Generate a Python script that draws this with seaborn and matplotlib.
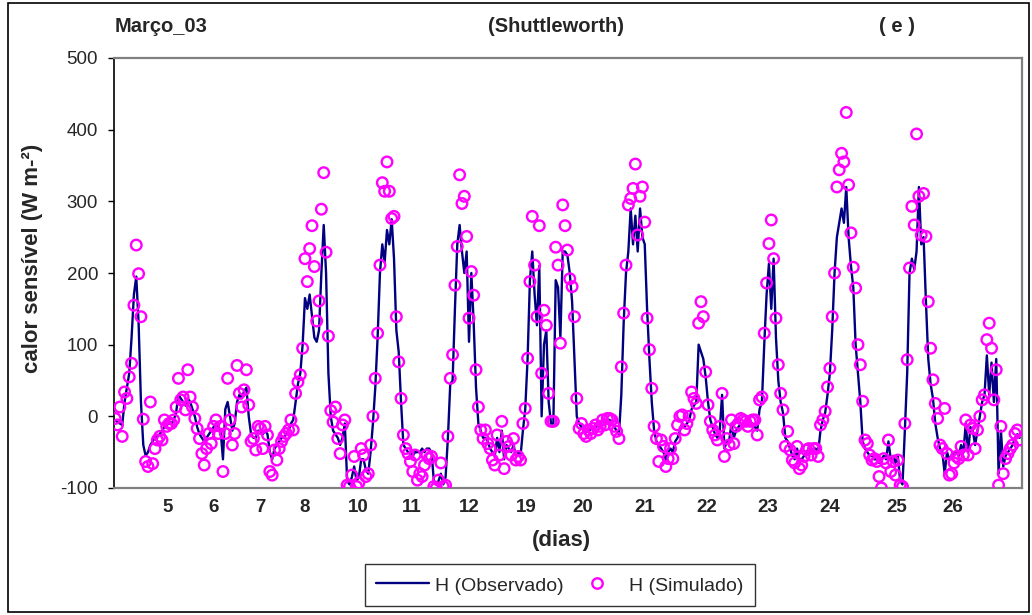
import numpy as np
import pandas as pd
import matplotlib
matplotlib.use("Agg")
import matplotlib.pyplot as plt
import seaborn as sns
from matplotlib.lines import Line2D
from matplotlib.patches import Rectangle

# H observado (W m-2), sequencia horaria
h_observado = [
    -5, -8, -10, -12, 20, 40, 60, 110, 170, 195, 130, 20, -40, -55, -50, -40, -35, -30, -28, -25, -20, -15, -12, -10,
    -10, -5, 5, 30, 25, 20, 15, 25, 20, 10, 0, -15, -25, -30, -35, -30, -25, -20, -15, -10, -15, -20, -60, 10,
    20, 0, -20, -10, 20, 30, 25, 35, 40, 0, -25, -30, -30, -20, -20, -25, -20, -25, -50, -60, -45, -40, -35, -30,
    -30, -25, -20, -10, -5, 20, 45, 60, 100, 165, 150, 170, 140, 110, 104, 120, 200, 267, 200, 60, 0, -20, -25, -30,
    -40, -30, -10, -90, -95, -85, -70, -90, -85, -60, -60, -75, -80, -50, -10, 40, 110, 200, 240, 215, 260, 240, 275, 220,
    120, 90, 20, -40, -45, -50, -50, -55, -50, -50, -50, -45, -50, -45, -45, -50, -90, -95, -90, -80, -95, -85, -30, 45,
    50, 150, 240, 267, 230, 200, 230, 104, 200, 130, 40, -10, -20, -30, -30, -35, -45, -50, -55, -30, -50, -20, -60, -40,
    -45, -50, -40, -55, -50, -55, -20, 10, 80, 190, 230, 170, 127, 210, 0, 100, 120, 20, -10, -10, 190, 180, 110, 230,
    230, 225, 200, 160, 80, 0, -10, -15, -20, -22, -20, -18, -15, -15, -12, -10, -8, -8, -5, -5, -10, -15, -20, -25,
    30, 130, 200, 230, 290, 240, 280, 230, 290, 250, 240, 150, 80, 20, -20, -35, -40, -45, -50, -60, -50, -45, -50, -35,
    -30, -20, -10, -15, -10, -5, 10, 15, 20, 100, 90, 80, 55, 20, -5, -15, -25, -30, -20, 30, -45, -35, -35, -10,
    -30, -20, -15, -10, -10, -10, -12, -10, -10, -15, -20, 10, 20, 100, 170, 213, 150, 220, 110, 50, 20, 5, -30, -35,
    -45, -55, -60, -45, -60, -60, -55, -50, -45, -50, -45, -45, -50, -20, -5, 5, 30, 60, 120, 200, 250, 270, 290, 270,
    320, 250, 210, 180, 100, 60, 20, -35, -45, -50, -55, -55, -60, -60, -65, -60, -55, -60, -35, -60, -55, -65, -55, -90,
    -95, -20, 60, 200, 220, 205, 230, 320, 240, 250, 160, 80, 45, 25, -10, -30, -45, -50, -80, -50, -60, -55, -50, -50,
    -55, -40, -50, -10, -50, -15, -20, -40, -20, 0, 20, 30, 85, 30, 75, 20, 80, -80, -20, -70, -55, -50, -45, -40, -30, -25, -30,
]

# H simulado (Shuttleworth)
h_simulado = [
    -3, -12, 13, -28, 34, 25, 55, 74, 155, 239, 199, 139, -4, -63, -70, 20, -66, -45, -33, -28, -33, -5, -14, -10,
    -10, -5, 13, 53, 23, 27, 9, 65, 27, 13, -3, -17, -31, -52, -68, -45, -24, -38, -14, -5, -24, -14, -77, -24,
    53, -5, -40, -24, 71, 32, 13, 37, 65, 16, -35, -31, -47, -14, -17, -45, -14, -26, -77, -82, -47, -61, -45, -35,
    -28, -24, -19, -5, -19, 32, 48, 58, 95, 220, 188, 234, 266, 209, 133, 161, 289, 340, 229, 112, 8, -8, 13, -31,
    -52, -12, -5, -96, -98, -82, -56, -98, -93, -45, -54, -84, -80, -40, 0, 53, 116, 211, 326, 314, 355, 314, 276, 279,
    139, 76, 25, -26, -45, -52, -63, -77, -54, -89, -80, -84, -68, -54, -59, -56, -98, -100, -89, -65, -98, -96, -28, 53,
    86, 183, 237, 337, 297, 307, 251, 137, 202, 169, 65, 13, -19, -31, -19, -38, -45, -61, -68, -26, -54, -7, -73, -35,
    -42, -54, -31, -61, -56, -61, -10, 11, 81, 188, 279, 211, 139, 266, 60, 148, 127, 32, -7, -7, 236, 211, 102, 295,
    266, 232, 192, 181, 139, 25, -17, -10, -24, -28, -19, -24, -17, -12, -19, -14, -5, -12, -3, -3, -5, -14, -21, -31,
    69, 144, 211, 295, 304, 318, 352, 253, 307, 320, 271, 137, 93, 39, -14, -31, -63, -33, -42, -70, -59, -45, -59, -31,
    -12, 0, 2, -19, -10, 0, 34, 25, 18, 130, 160, 139, 62, 16, -7, -19, -26, -33, -14, 32, -56, -31, -40, -5,
    -38, -14, -10, -3, -5, -7, -14, -7, -5, -5, -26, 23, 27, 116, 186, 241, 274, 220, 137, 72, 32, 9, -42, -21,
    -47, -61, -65, -42, -73, -68, -56, -47, -45, -54, -45, -45, -56, -12, -5, 7, 41, 67, 139, 200, 320, 344, 367, 355,
    424, 323, 256, 208, 179, 100, 72, 21, -33, -38, -54, -61, -59, -63, -84, -100, -59, -65, -33, -77, -63, -82, -61, -96,
    -98, -10, 79, 207, 293, 267, 394, 307, 253, 311, 251, 160, 95, 51, 18, -3, -40, -45, 11, -52, -82, -80, -65, -56,
    -59, -42, -54, -5, -54, -12, -17, -45, -19, 0, 23, 30, 107, 130, 95, 23, 65, -96, -14, -80, -59, -52, -45, -40, -24, -19, -33,
]

dias = ["5", "6", "7", "8", "10", "11", "12", "19", "20", "21", "22", "23", "24", "25", "26"]
dias_hora = [22.5, 42.2, 61.8, 81.0, 103.6, 126.6, 151.3, 175.6, 199.5, 226.0, 252.4, 278.5, 305.0, 333.6, 357.5]
y_ticks = [-100, 0, 100, 200, 300, 400, 500]

df = pd.DataFrame({
    "hora": np.arange(len(h_observado)),
    "obs": h_observado,
    "sim": h_simulado,
})

sns.set_style("white")
plt.rcParams["font.family"] = ["Liberation Sans", "DejaVu Sans"]
plt.rcParams["axes.unicode_minus"] = False

W, H = 1032, 615
fig = plt.figure(figsize=(W / 100, H / 100), dpi=100)
ax = fig.add_axes([114 / W, 1 - 488 / H, (1022 - 114) / W, (488 - 58) / H])

navy = "#000080"
magenta = "#ff00ff"

sns.lineplot(data=df, x="hora", y="obs", color=navy, linewidth=1.7, ax=ax, zorder=2)
sns.scatterplot(data=df, x="hora", y="sim", marker="o", s=58, facecolor="none",
                edgecolor=magenta, linewidth=1.7, ax=ax, zorder=3)

ax.set_xlim(-0.5, 387)
ax.set_ylim(-100, 500)
ax.set_yticks(y_ticks)
ax.set_xticks(dias_hora)
ax.set_xticklabels(dias, fontweight="bold", fontsize=13.5)
ax.tick_params(axis="x", length=0, pad=8)
ax.tick_params(axis="y", left=True, length=4.5, width=1, color="black", direction="out",
               pad=7, labelsize=13.5)

for side in ["top", "right", "bottom"]:
    ax.spines[side].set_color("#808080")
    ax.spines[side].set_linewidth(1.6)
ax.spines["left"].set_color("black")
ax.spines["left"].set_linewidth(1.2)

ax.set_xlabel("(dias)", fontweight="bold", fontsize=16)
ax.xaxis.label.set_va("center")
ax.xaxis.set_label_coords(0.493, -0.123)
ax.set_ylabel("calor sensível (W m-²)", fontweight="bold", fontsize=16)
ax.yaxis.label.set_va("center")
ax.yaxis.set_label_coords(-0.09, 0.535)

fig.text(115 / W, 1 - 27 / H, "Março_03", fontweight="bold", fontsize=14.5, ha="left", va="center")
fig.text(556 / W, 1 - 27 / H, "(Shuttleworth)", fontweight="bold", fontsize=14.5, ha="center", va="center")
fig.text(897 / W, 1 - 27 / H, "( e )", fontweight="bold", fontsize=14.5, ha="center", va="center")

handles = [
    Line2D([], [], color=navy, linewidth=1.7),
    Line2D([], [], color=magenta, marker="o", linestyle="", markerfacecolor="none",
           markersize=7.5, markeredgewidth=1.7),
]
leg = fig.legend(handles, ["H (Observado)", "H (Simulado)"], loc="center",
                 bbox_to_anchor=(560 / W, 1 - 585 / H), ncol=2, fontsize=14,
                 frameon=True, fancybox=False, handlelength=2.7, handleheight=1.0,
                 handletextpad=0.3, columnspacing=0.4, borderpad=0.6, borderaxespad=0)
leg.get_frame().set_edgecolor("black")
leg.get_frame().set_linewidth(1.0)

fig.patches.append(Rectangle((8 / W, 3 / H), 1021 / W, 609 / H, transform=fig.transFigure,
                             fill=False, edgecolor="black", linewidth=1.2))

fig.savefig("out.png", dpi=100)
